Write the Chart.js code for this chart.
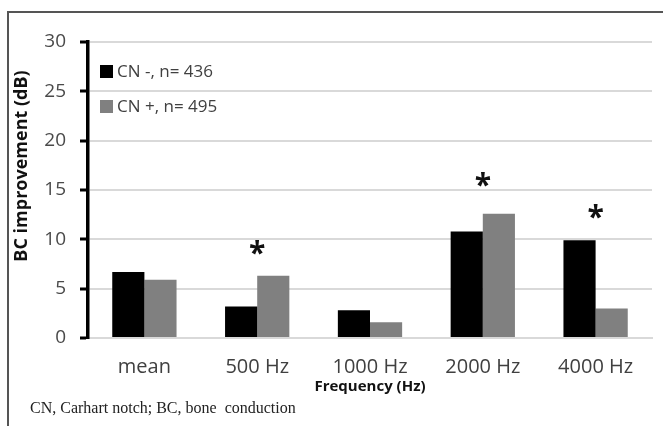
<!DOCTYPE html>
<html>
<head>
<meta charset="utf-8">
<script src="https://cdn.jsdelivr.net/npm/chart.js@4.4.1/dist/chart.umd.min.js"></script>
<style>
  html, body { margin: 0; padding: 0; background: #fff; }
  .wrap { position: relative; width: 663px; height: 426px; overflow: hidden; }
  .frame { position: absolute; left: 7px; top: 11px; right: -10px; bottom: -10px;
           border-left: 2px solid #555; border-top: 2px solid #555; }
  canvas { position: absolute; left: 0; top: 0; }
  .note { position: absolute; left: 30px; top: 399px; font: 16px "Liberation Serif", "DejaVu Serif", serif;
          color: #222; white-space: pre; }
</style>
</head>
<body>
<div class="wrap">
  <div class="frame"></div>
  <canvas id="chart" width="663" height="426"></canvas>
  <div class="note">CN, Carhart notch; BC, bone  conduction</div>
</div>
<script>
const categories = ['mean', '500 Hz', '1000 Hz', '2000 Hz', '4000 Hz'];
const cnMinus = [6.7, 3.2, 2.8, 10.8, 9.9];
const cnPlus = [5.9, 6.3, 1.6, 12.6, 3.0];
const seriesLabels = ['CN -, n= 436', 'CN +, n= 495'];
// height (dB) where the significance star sits, null = no star
const starLevels = [null, 9.1, null, 16.0, 12.8];
const yTicks = [0, 5, 10, 15, 20, 25, 30];
const yTitle = 'BC improvement (dB)';
const xTitle = 'Frequency (Hz)';

const sans = "'Open Sans', 'DejaVu Sans', sans-serif";

// legend drawn inside the plot, top left
const insideLegend = {
  id: 'insideLegend',
  afterDraw(chart) {
    const { ctx, chartArea } = chart;
    ctx.save();
    ctx.font = '17px ' + sans;
    ctx.textBaseline = 'middle';
    chart.data.datasets.forEach((ds, i) => {
      const x = chartArea.left + 12;
      const y = chartArea.top + 23 + i * 35;
      ctx.fillStyle = ds.backgroundColor;
      ctx.fillRect(x, y, 13, 13);
      ctx.fillStyle = '#404040';
      ctx.fillText(ds.label, x + 17, y + 7);
    });
    ctx.restore();
  }
};

// stars over the significant groups
const stars = {
  id: 'stars',
  afterDatasetsDraw(chart) {
    const { ctx, scales } = chart;
    ctx.save();
    ctx.font = 'bold 30px ' + sans;
    ctx.textAlign = 'center';
    ctx.textBaseline = 'alphabetic';
    ctx.fillStyle = '#111';
    starLevels.forEach((v, i) => {
      if (v === null) return;
      const x = scales.x.getPixelForValue(i);
      const y = scales.y.getPixelForValue(v);
      ctx.fillText('*', x, y + 15);
    });
    ctx.restore();
  }
};

// rotated y title, sits a bit above the middle of the axis like the original
const yAxisTitle = {
  id: 'yAxisTitle',
  afterDraw(chart) {
    const { ctx } = chart;
    ctx.save();
    ctx.translate(21.5, 166);
    ctx.rotate(-Math.PI / 2);
    ctx.font = 'bold 18px ' + sans;
    ctx.fillStyle = '#111';
    ctx.textAlign = 'center';
    ctx.textBaseline = 'middle';
    ctx.fillText(yTitle, 0, 0);
    ctx.restore();
  }
};

new Chart(document.getElementById('chart'), {
  type: 'bar',
  data: {
    labels: categories,
    datasets: [
      { label: seriesLabels[0], data: cnMinus, backgroundColor: '#000000' },
      { label: seriesLabels[1], data: cnPlus, backgroundColor: '#808080' }
    ]
  },
  options: {
    responsive: false,
    devicePixelRatio: 1,
    animation: false,
    layout: { padding: { left: 0, right: 11, top: 42, bottom: 0 } },
    datasets: { bar: { categoryPercentage: 0.57, barPercentage: 1.0 } },
    plugins: { legend: { display: false }, tooltip: { enabled: false } },
    scales: {
      x: {
        grid: { display: false, drawTicks: false },
        border: { display: true, color: '#d9d9d9', width: 2 },
        ticks: { font: { family: sans, size: 20 }, color: '#404040', padding: 17, maxRotation: 0 },
        title: { display: true, text: xTitle, font: { family: sans, size: 15, weight: 'bold' },
                 color: '#111', padding: { top: 0, bottom: 30 } },
        afterFit(scale) { scale.height = 88; }
      },
      y: {
        min: 0,
        max: 30,
        afterBuildTicks(scale) { scale.ticks = yTicks.map(v => ({ value: v })); },
        grid: { color: '#d9d9d9', lineWidth: 2, tickLength: 8, tickColor: '#000', tickWidth: 3 },
        border: { color: '#000', width: 3.5 },
        ticks: { font: { family: sans, size: 19 }, color: '#4a4a4a', padding: 14 },
        afterFit(scale) { scale.width = 88; }
      }
    }
  },
  plugins: [insideLegend, stars, yAxisTitle]
});
</script>
</body>
</html>
